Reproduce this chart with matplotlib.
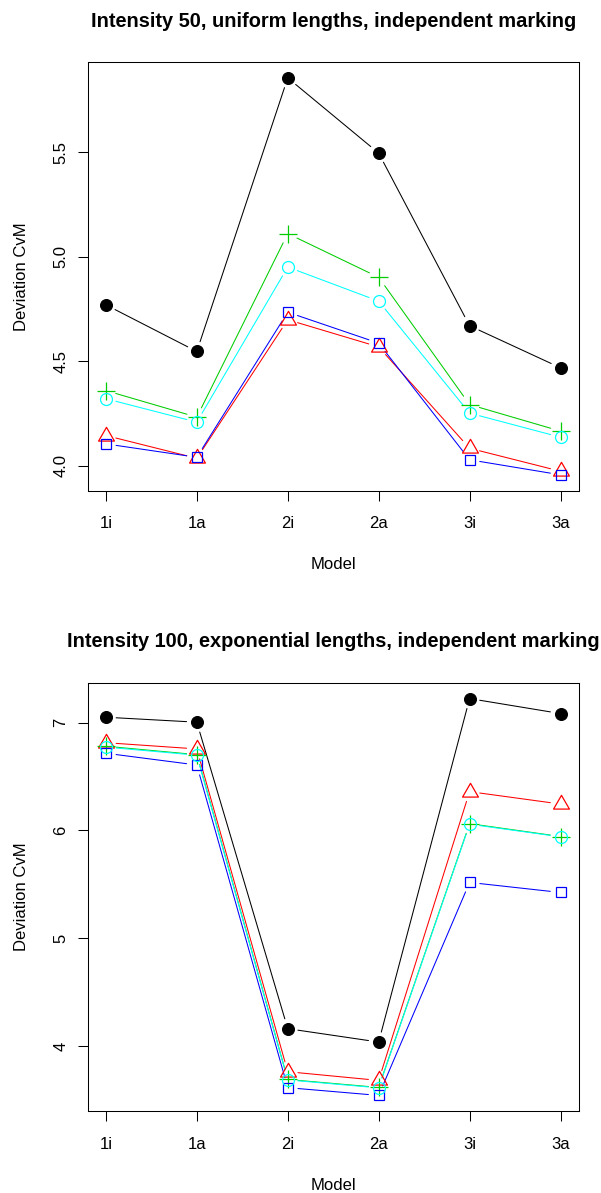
import matplotlib
matplotlib.use("Agg")
import matplotlib.pyplot as plt
from matplotlib.path import Path
import numpy as np

plt.rcParams['font.family'] = ['Liberation Sans', 'DejaVu Sans']

# ---------------- data ----------------
models = ['1i', '1a', '2i', '2a', '3i', '3a']

title_top = "Intensity 50, uniform lengths, independent marking"
title_bot = "Intensity 100, exponential lengths, independent marking"
xlabel = "Model"
ylabel = "Deviation CvM"

top_black = [4.770, 4.547, 5.856, 5.496, 4.670, 4.469]
top_red   = [4.145, 4.036, 4.699, 4.569, 4.084, 3.974]
top_green = [4.360, 4.233, 5.111, 4.902, 4.293, 4.166]
top_blue  = [4.105, 4.041, 4.735, 4.587, 4.029, 3.957]
top_cyan  = [4.321, 4.209, 4.951, 4.788, 4.252, 4.137]

bot_black = [7.049, 7.003, 4.161, 4.037, 7.222, 7.083]
bot_red   = [6.813, 6.755, 3.762, 3.681, 6.359, 6.244]
bot_green = [6.780, 6.702, 3.690, 3.616, 6.062, 5.943]
bot_blue  = [6.715, 6.606, 3.614, 3.542, 5.517, 5.424]
bot_cyan  = [6.772, 6.697, 3.686, 3.612, 6.057, 5.940]

top_yticks = [4.0, 4.5, 5.0, 5.5]
top_yticklabels = ['4.0', '4.5', '5.0', '5.5']
bot_yticks = [4, 5, 6, 7]
bot_yticklabels = ['4', '5', '6', '7']

# ---------------- styles ----------------
# R-like triangle (pch 2) centred on its centroid
tri = Path([[0, 9.74], [8.43, -4.87], [-8.43, -4.87], [0, 9.74]],
           [Path.MOVETO, Path.LINETO, Path.LINETO, Path.CLOSEPOLY])

styles = [
    dict(color='#000000', marker='o', ms=8.6, mfc='#000000', mew=0.75),
    dict(color='#FF0000', marker=tri, ms=13.2, mfc='none', mew=0.9),
    dict(color='#00CD00', marker='+', ms=12.3, mfc='none', mew=0.9),
    dict(color='#0000FF', marker='s', ms=7.6, mfc='none', mew=0.9),
    dict(color='#00FFFF', marker='o', ms=8.6, mfc='none', mew=0.9),
]
GAP = 7.4  # points, gap between line ends and symbols (R type="b")
LW = 0.75

W, H = 601, 1193
fig = plt.figure(figsize=(W / 100, H / 100), dpi=100)
ax1 = fig.add_axes([87.7 / W, 1 - 490.7 / H, 491.0 / W, 428.7 / H])
ax2 = fig.add_axes([87.7 / W, 1 - 1111.3 / H, 491.0 / W, 428.6 / H])


def draw_panel(ax, series, yticks, yticklabels, title):
    x = np.arange(1, len(models) + 1)
    allv = np.concatenate([np.asarray(s) for s in series])
    lo, hi = allv.min(), allv.max()
    pad = 0.04 * (hi - lo)
    ax.set_xlim(1 - 0.04 * (len(models) - 1), len(models) + 0.04 * (len(models) - 1))
    ax.set_ylim(lo - pad, hi + pad)
    for vals, st in zip(series, styles):
        ax.plot(x, vals, linestyle='none', color=st['color'], marker=st['marker'],
                ms=st['ms'], mec=st['color'], mfc=st['mfc'], mew=st['mew'], zorder=3)
        for i in range(len(x) - 1):
            ax.annotate('', xy=(x[i + 1], vals[i + 1]), xytext=(x[i], vals[i]),
                        arrowprops=dict(arrowstyle='-', color=st['color'], lw=LW,
                                        shrinkA=GAP, shrinkB=GAP),
                        zorder=2)
    ax.set_xticks(x)
    ax.set_xticklabels(models)
    ax.set_yticks(yticks)
    ax.set_yticklabels(yticklabels, rotation=90, va='center')
    ax.tick_params(axis='both', direction='out', length=7.4, width=LW,
                   labelsize=12, color='black')
    ax.tick_params(axis='x', pad=11.0)
    ax.tick_params(axis='y', pad=6.4)
    for sp in ax.spines.values():
        sp.set_linewidth(LW)
        sp.set_color('black')
    ax.set_xlabel(xlabel, fontsize=12, va='center')
    ax.xaxis.set_label_coords(0.5, -0.1733)
    ax.set_ylabel(ylabel, fontsize=12, va='center')
    ax.yaxis.set_label_coords((21.5 - 87.7) / 491.0, 0.5)
    ax.set_title(title, fontsize=14.4, fontweight='bold', y=1.076, va='center')


draw_panel(ax1, [top_black, top_red, top_green, top_blue, top_cyan],
           top_yticks, top_yticklabels, title_top)
draw_panel(ax2, [bot_black, bot_red, bot_green, bot_blue, bot_cyan],
           bot_yticks, bot_yticklabels, title_bot)

fig.savefig('out.png', dpi=100)
